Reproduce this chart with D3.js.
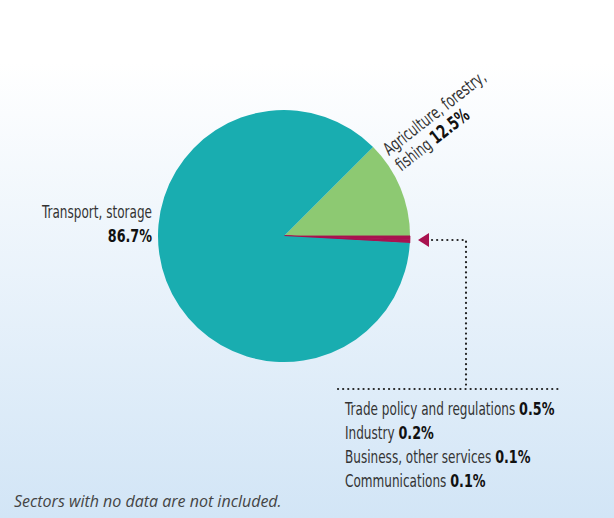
<html>
<head>
<script src="https://d3js.org/d3.v7.min.js"></script>
<style>
  body { margin: 0; }
  text.lbl { font-family: "DejaVu Sans", sans-serif; fill: #333; }
</style>
</head>
<body>
<div id="chart"></div>
<script>
// sectors, in drawing order (clockwise from the top-right)
var sectors = ["Agriculture, forestry, fishing", "Trade policy and regulations", "Industry", "Business, other services", "Communications", "Transport, storage"];
var shares = [12.5, 0.5, 0.2, 0.1, 0.1, 86.7];
var colours = ["#8dc972", "#a8124f", "#a8124f", "#a8124f", "#a8124f", "#19adb0"];
var smallSectors = ["Trade policy and regulations", "Industry", "Business, other services", "Communications"];
var smallLabels = ["0.5%", "0.2%", "0.1%", "0.1%"];

var W = 614, H = 518;
var cx = 284, cy = 236, r = 126;
var squeeze = 0.69; // condensed look

var svg = d3.select("#chart").append("svg")
  .attr("width", W).attr("height", H);

// background gradient
var grad = svg.append("defs").append("linearGradient")
  .attr("id", "bg").attr("x1", 0).attr("y1", 0).attr("x2", 0).attr("y2", 1);
grad.append("stop").attr("offset", "0%").attr("stop-color", "#ffffff");
grad.append("stop").attr("offset", "12%").attr("stop-color", "#ffffff");
grad.append("stop").attr("offset", "100%").attr("stop-color", "#d2e5f6");
svg.append("rect").attr("width", W).attr("height", H).attr("fill", "url(#bg)");

var pie = d3.pie().sort(null)
  .startAngle(Math.PI / 4).endAngle(Math.PI / 4 + 2 * Math.PI);
var arc = d3.arc().innerRadius(0).outerRadius(r);

var g = svg.append("g").attr("transform", "translate(" + cx + "," + cy + ")");
g.selectAll("path")
  .data(pie(shares))
  .enter().append("path")
  .attr("d", arc)
  .attr("fill", function(d, i) { return colours[i]; })
  .attr("stroke", function(d, i) { return colours[i]; })
  .attr("stroke-width", function(d, i) { return colours[i] == "#a8124f" ? 0.8 : 0; });

// Transport label
var t1 = svg.append("text").attr("class", "lbl")
  .attr("transform", "translate(152,218) scale(" + squeeze + ",1)")
  .attr("text-anchor", "end").style("font-size", "17.5px");
t1.append("tspan").attr("x", 0).text("Transport, storage");
t1.append("tspan").attr("x", 0).attr("dy", 24)
  .style("font-weight", "bold").style("font-size", "18.5px").style("fill", "#111").text(shares[5] + "%");

// Agriculture label (rotated)
var t2 = svg.append("text").attr("class", "lbl")
  .attr("transform", "translate(389,156) rotate(-38) scale(" + squeeze + ",1)")
  .style("font-size", "17.5px");
t2.append("tspan").attr("x", 0).attr("y", 0).text("Agriculture, forestry,");
t2.append("tspan").attr("x", 0).attr("dy", 20).text("fishing ");
t2.append("tspan").style("font-weight", "bold").style("font-size", "18.5px").style("fill", "#111").text(shares[0] + "%");

// leader to small sectors
var dash = { "stroke": "#222", "stroke-width": 2.2, "stroke-dasharray": "0.1 5", "stroke-linecap": "round", "fill": "none" };
var leader = svg.append("path")
  .attr("d", "M432,240 H466 V389");
var base = svg.append("line").attr("x1", 338).attr("x2", 560).attr("y1", 389).attr("y2", 389);
[leader, base].forEach(function(s) { for (var k in dash) s.attr(k, dash[k]); });

svg.append("path")
  .attr("d", "M418,240 L429,233 L429,247 Z")
  .attr("fill", "#a8124f");

// list of small sectors
smallSectors.forEach(function(s, i) {
  var t = svg.append("text").attr("class", "lbl")
    .attr("transform", "translate(345," + (415 + i * 24) + ") scale(" + squeeze + ",1)")
    .style("font-size", "17.5px");
  t.append("tspan").text(s + " ");
  t.append("tspan").style("font-weight", "bold").style("font-size", "18.5px").style("fill", "#111").text(smallLabels[i]);
});

// footnote
svg.append("text").attr("x", 14).attr("y", 507)
  .style("font-family", "'Open Sans', sans-serif")
  .style("font-style", "italic").style("font-size", "16px").style("fill", "#444")
  .text("Sectors with no data are not included.");
</script>
</body>
</html>
